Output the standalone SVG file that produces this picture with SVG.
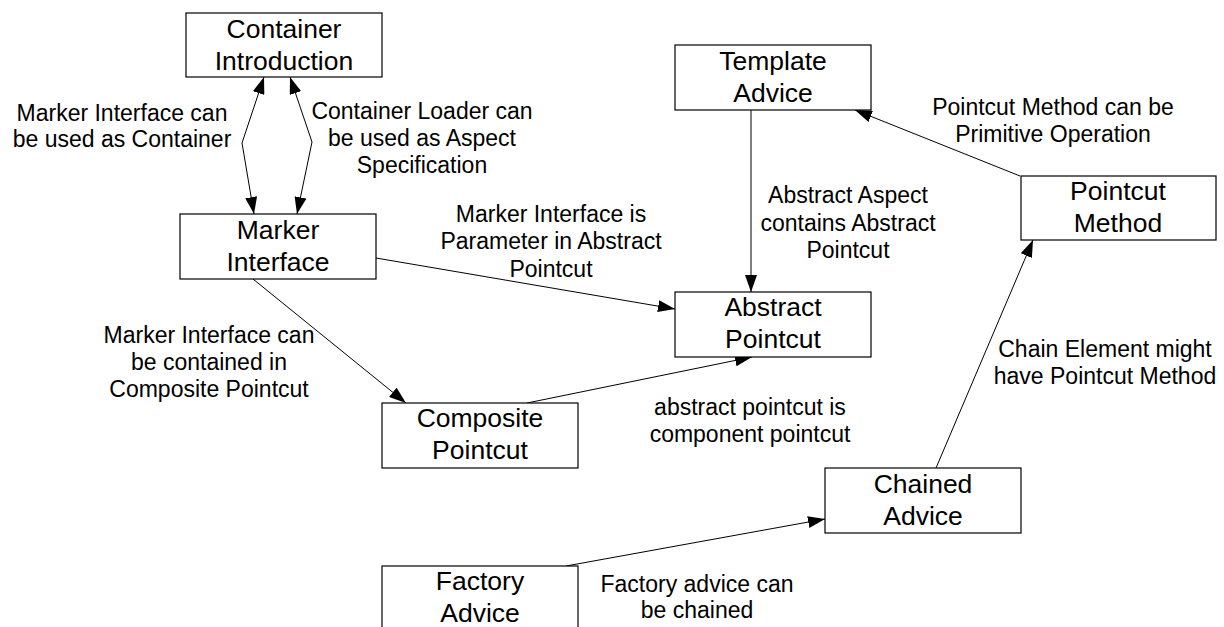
<svg xmlns="http://www.w3.org/2000/svg" width="1224" height="627" viewBox="0 0 1224 627">
<style>
.box{fill:#fff;stroke:#000;stroke-width:1.2}
.nt{font-family:"Liberation Sans",Arial,sans-serif;font-size:26.5px;fill:#000;text-anchor:middle}
.lt{font-family:"Liberation Sans",Arial,sans-serif;font-size:23px;fill:#000;text-anchor:middle}
.c{fill:none;stroke:#000;stroke-width:1}
</style>
<defs>
<marker id="arr" viewBox="0 0 17 12" refX="17" refY="6" markerWidth="17" markerHeight="12" orient="auto-start-reverse" markerUnits="userSpaceOnUse">
<path d="M0,0 L17,6 L0,12 z" fill="#000"/>
</marker>
</defs>
<rect width="1224" height="627" fill="#fff"/>
<g id="connectors">
<polyline class="c" points="264,77 242,143 254,214" marker-start="url(#arr)" marker-end="url(#arr)"/>
<polyline class="c" points="290,77 312,142 297,214" marker-start="url(#arr)" marker-end="url(#arr)"/>
<line class="c" x1="376" y1="258" x2="675" y2="309" marker-end="url(#arr)"/>
<line class="c" x1="253" y1="279" x2="406" y2="403" marker-end="url(#arr)"/>
<line class="c" x1="751" y1="110" x2="751" y2="292" marker-end="url(#arr)"/>
<line class="c" x1="1020" y1="176" x2="855" y2="110" marker-end="url(#arr)"/>
<line class="c" x1="527" y1="403" x2="752" y2="357" marker-end="url(#arr)"/>
<line class="c" x1="936" y1="468" x2="1033" y2="240" marker-end="url(#arr)"/>
<line class="c" x1="566" y1="566" x2="825" y2="519" marker-end="url(#arr)"/>
</g>
<g id="labels">
<text class="lt" x="122" y="121">Marker Interface can</text>
<text class="lt" x="122" y="147">be used as Container</text>
<text class="lt" x="422" y="119">Container Loader can</text>
<text class="lt" x="422" y="146">be used as Aspect</text>
<text class="lt" x="422" y="173">Specification</text>
<text class="lt" x="551" y="222">Marker Interface is</text>
<text class="lt" x="551" y="249">Parameter in Abstract</text>
<text class="lt" x="551" y="277">Pointcut</text>
<text class="lt" x="848" y="203">Abstract Aspect</text>
<text class="lt" x="848" y="231">contains Abstract</text>
<text class="lt" x="848" y="258">Pointcut</text>
<text class="lt" x="1053" y="115">Pointcut Method can be</text>
<text class="lt" x="1053" y="142">Primitive Operation</text>
<text class="lt" x="209" y="343">Marker Interface can</text>
<text class="lt" x="209" y="370">be contained in</text>
<text class="lt" x="209" y="397">Composite Pointcut</text>
<text class="lt" x="750" y="415">abstract pointcut is</text>
<text class="lt" x="750" y="442">component pointcut</text>
<text class="lt" x="1105" y="357">Chain Element might</text>
<text class="lt" x="1105" y="384">have Pointcut Method</text>
<text class="lt" x="697" y="592">Factory advice can</text>
<text class="lt" x="697" y="618">be chained</text>
</g>
<g id="container-introduction">
<rect class="box" x="186" y="13" width="196" height="64"/>
<text class="nt" x="284" y="38">Container</text>
<text class="nt" x="284" y="70">Introduction</text>
</g>
<g id="marker-interface">
<rect class="box" x="180" y="214" width="196" height="65"/>
<text class="nt" x="278" y="239">Marker</text>
<text class="nt" x="278" y="271">Interface</text>
</g>
<g id="template-advice">
<rect class="box" x="675" y="45" width="196" height="65"/>
<text class="nt" x="773" y="70">Template</text>
<text class="nt" x="773" y="102">Advice</text>
</g>
<g id="abstract-pointcut">
<rect class="box" x="675" y="292" width="196" height="65"/>
<text class="nt" x="773" y="316">Abstract</text>
<text class="nt" x="773" y="348">Pointcut</text>
</g>
<g id="pointcut-method">
<rect class="box" x="1021" y="176" width="195" height="64"/>
<text class="nt" x="1118" y="200">Pointcut</text>
<text class="nt" x="1118" y="232">Method</text>
</g>
<g id="composite-pointcut">
<rect class="box" x="382" y="403" width="196" height="65"/>
<text class="nt" x="480" y="427">Composite</text>
<text class="nt" x="480" y="459">Pointcut</text>
</g>
<g id="chained-advice">
<rect class="box" x="825" y="468" width="196" height="65"/>
<text class="nt" x="923" y="493">Chained</text>
<text class="nt" x="923" y="525">Advice</text>
</g>
<g id="factory-advice">
<rect class="box" x="382" y="566" width="196" height="65"/>
<text class="nt" x="480" y="590">Factory</text>
<text class="nt" x="480" y="622">Advice</text>
</g>
</svg>
